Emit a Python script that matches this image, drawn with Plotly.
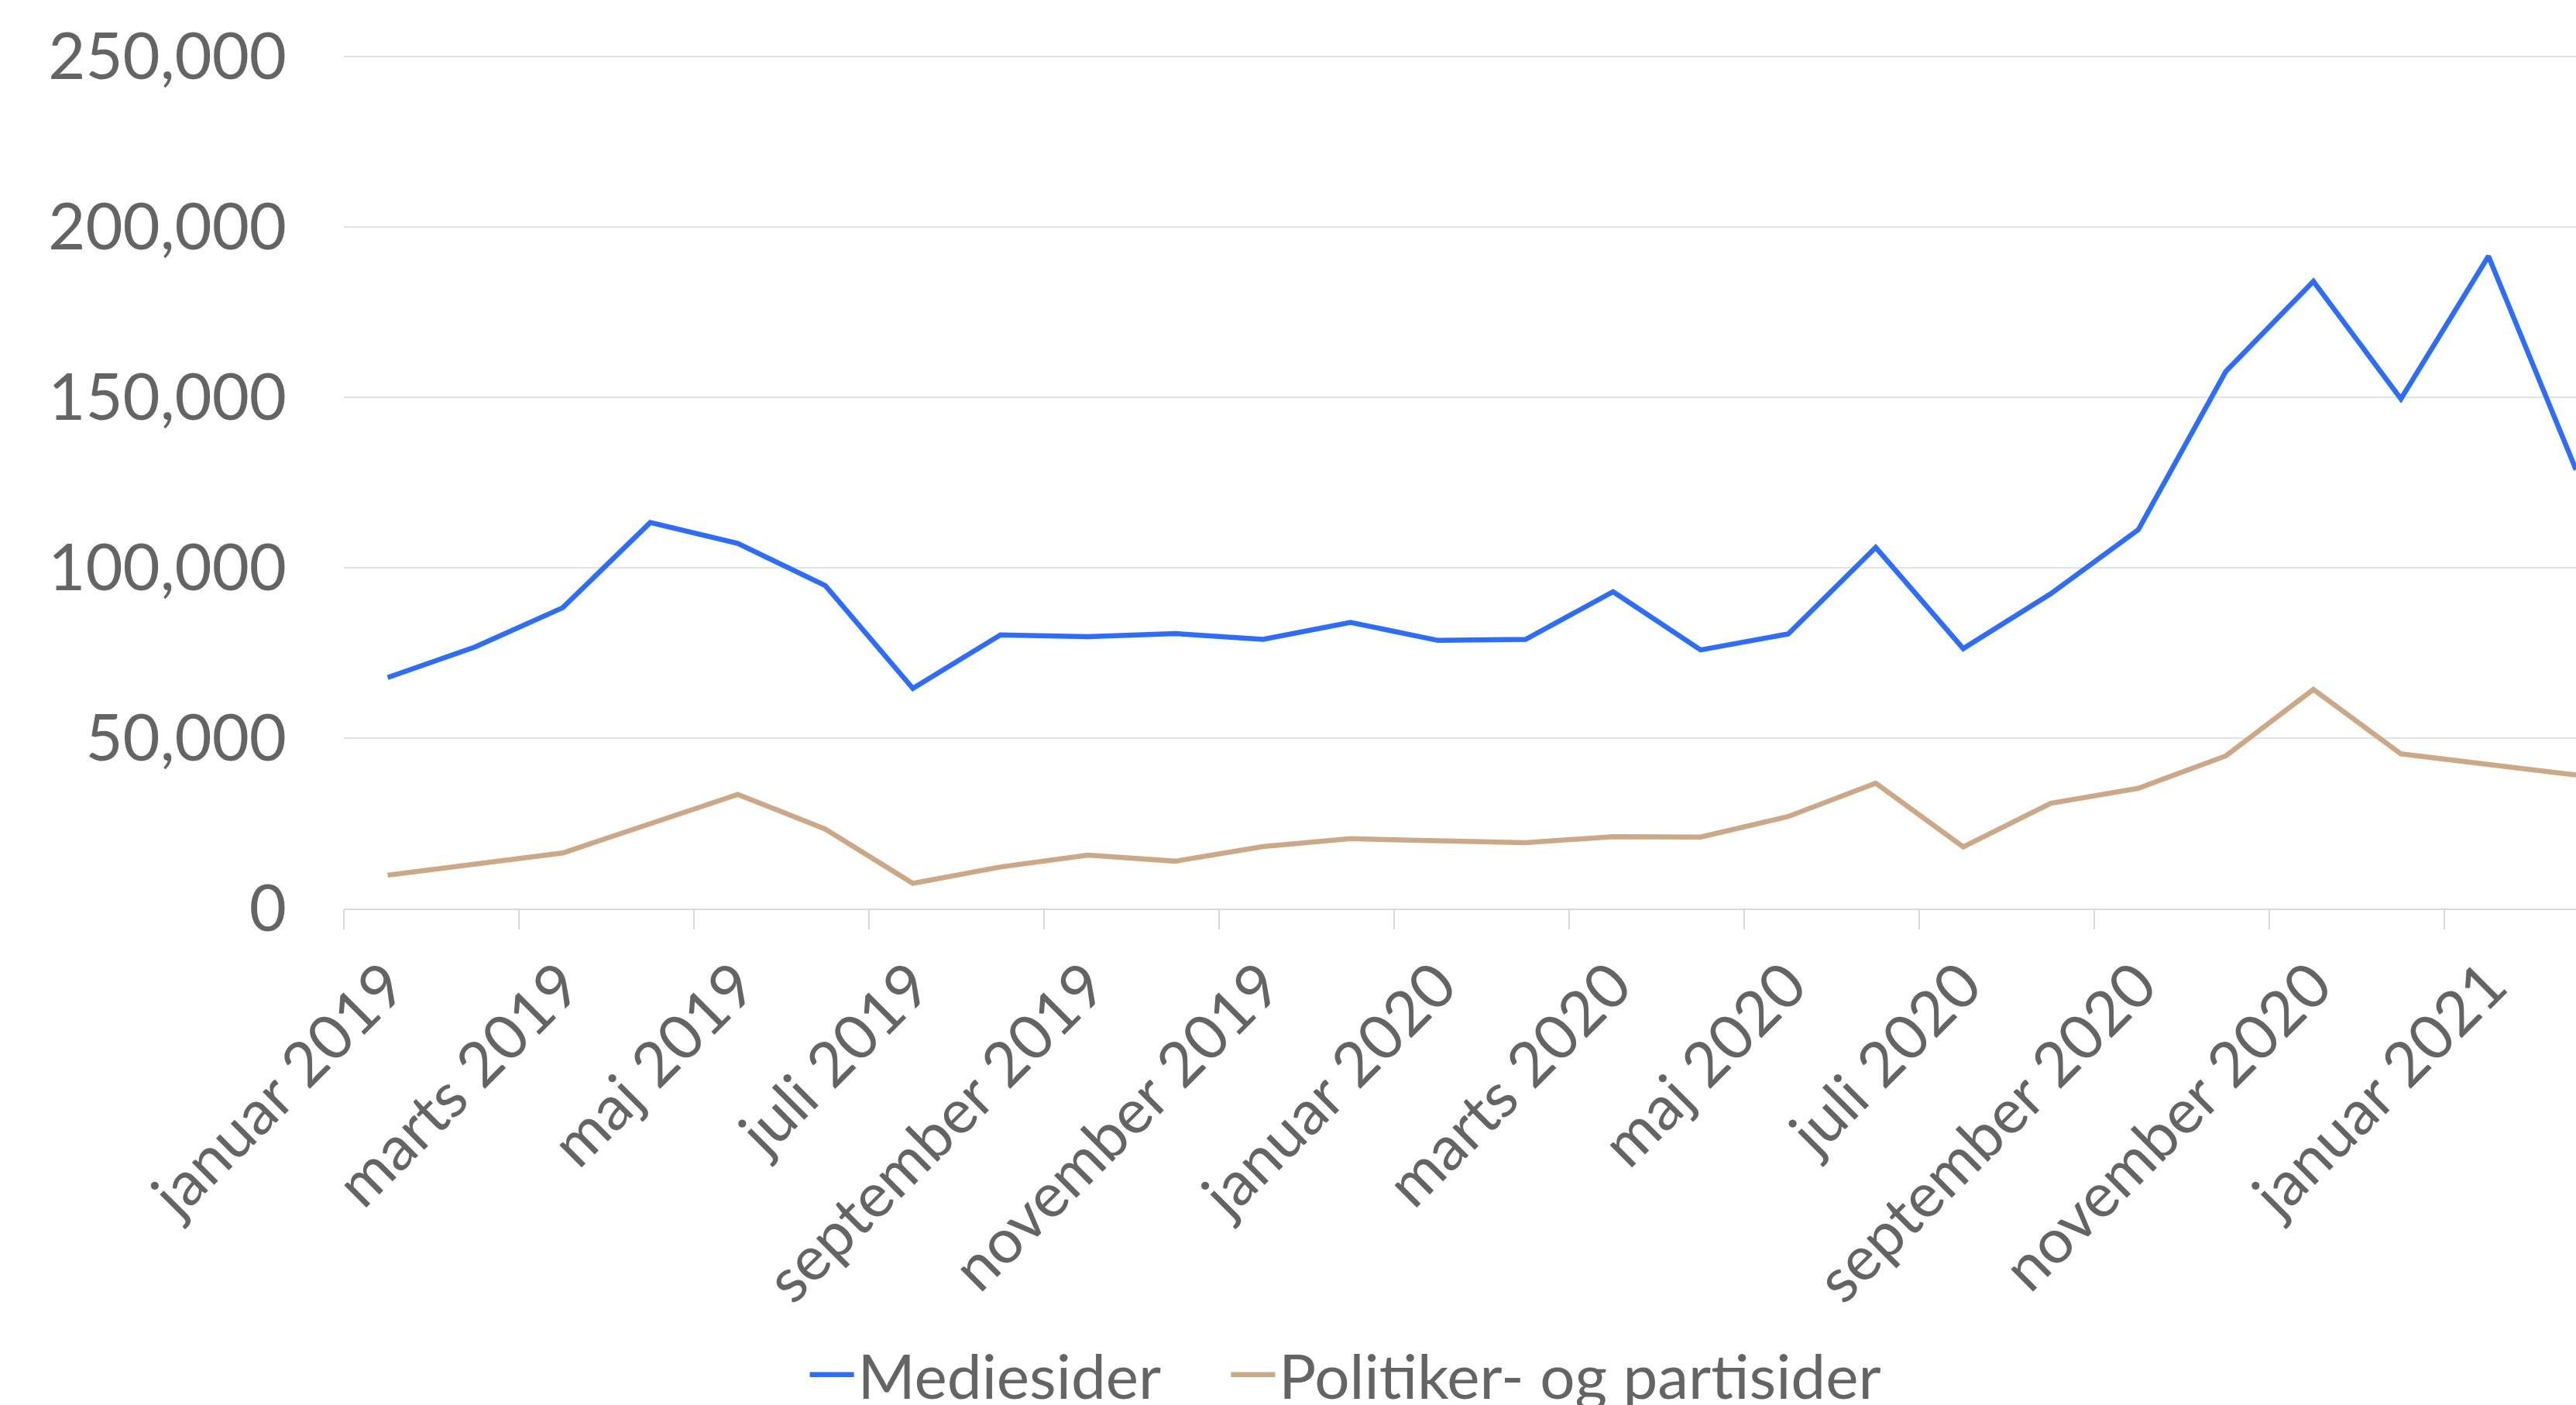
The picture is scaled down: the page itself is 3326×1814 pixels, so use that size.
import plotly.graph_objects as go

months = [
    "januar 2019", "februar 2019", "marts 2019", "april 2019", "maj 2019", "juni 2019",
    "juli 2019", "august 2019", "september 2019", "oktober 2019", "november 2019", "december 2019",
    "januar 2020", "februar 2020", "marts 2020", "april 2020", "maj 2020", "juni 2020",
    "juli 2020", "august 2020", "september 2020", "oktober 2020", "november 2020", "december 2020",
    "januar 2021", "februar 2021",
]
mediesider = [
    67800, 76800, 88300, 113300, 107200, 94800, 64600, 80300, 79800, 80700, 79000, 84000,
    78700, 79000, 93000, 75900, 80600, 106000, 76300, 92400, 111200, 157700, 184100, 149600,
    191500, 128800,
]
politikere = [
    9800, 12900, 16300, 24900, 33500, 23300, 7400, 12200, 15700, 13900, 18200, 20500,
    19800, 19300, 21100, 21000, 27000, 36800, 18100, 30900, 35300, 44800, 64300, 45400,
    42300, 39200,
]
series_names = ["Mediesider", "Politiker- og partisider"]
y_ticks = [0, 50000, 100000, 150000, 200000, 250000]

FONT = "Lato"
TXT = "#646464"
FS = 80

fig = go.Figure()
fig.add_trace(go.Scatter(x=months, y=mediesider, mode="lines",
                         name=series_names[0] + "\u00a0" * 4,
                         line=dict(color="#2C6CFF", width=6.5)))
fig.add_trace(go.Scatter(x=months, y=politikere, mode="lines", name=series_names[1],
                         line=dict(color="#CDA886", width=6.5)))

# Figure is slightly taller than the 1814px viewport so the legend never pushes the margins;
# the overflow below the viewport is empty.
fig.update_layout(
    width=3326, height=1870,
    margin=dict(l=444, r=0, t=69, b=697),
    paper_bgcolor="white", plot_bgcolor="white",
    font=dict(family=FONT, size=FS, color=TXT),
    showlegend=True,
    legend=dict(orientation="h", x=0.207, xanchor="left", y=-0.545, yanchor="middle",
                font=dict(size=FS, color=TXT), bgcolor="rgba(0,0,0,0)", tracegroupgap=0,
                itemwidth=57),
    xaxis=dict(type="category", range=[-0.5, 25], tickangle=-45, dtick=2,
               tickson="boundaries", ticks="outside", ticklen=25, tickwidth=2,
               tickcolor="#D9D9D9", showline=True, linecolor="#D9D9D9", linewidth=2,
               showgrid=False, tickfont=dict(size=FS, color=TXT), automargin=False,
               ticklabelstandoff=18),
    yaxis=dict(range=[0, 251000], tickvals=y_ticks, tickformat=",d",
               showgrid=True, gridcolor="#E3E3E3", gridwidth=2, zeroline=False,
               showline=False, ticks="", tickfont=dict(size=83, color=TXT),
               ticklabelstandoff=73, automargin=False),
)

fig.write_html("out.html", config={"displayModeBar": False},
               post_script="document.body.style.margin='0';document.body.style.overflow='hidden';")
